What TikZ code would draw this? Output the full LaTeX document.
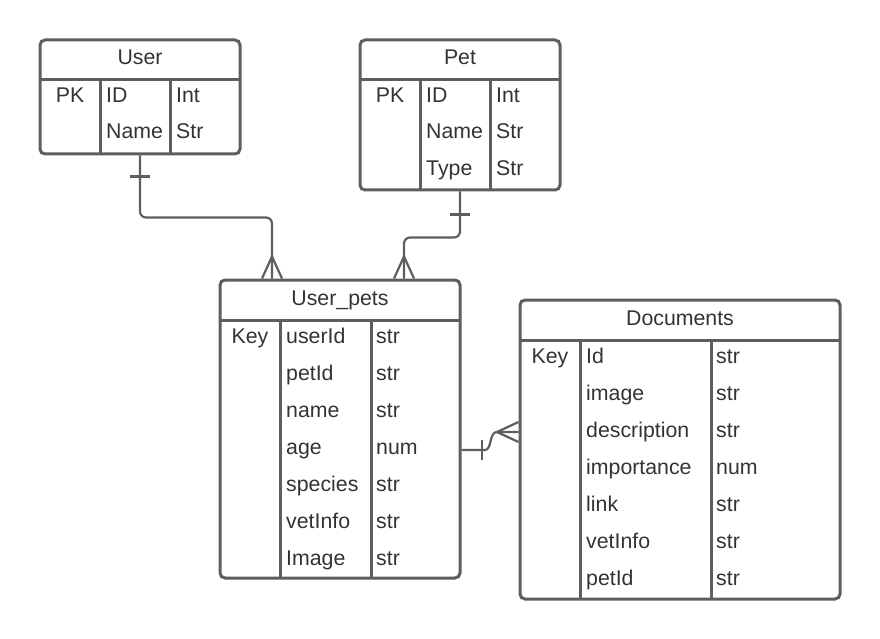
\documentclass[tikz,border=0pt]{standalone}
\usepackage{fontspec}
\setmainfont{Liberation Sans}
\usepackage{xcolor}
\usetikzlibrary{positioning}
\definecolor{linegray}{HTML}{5E5E5E}
\definecolor{textgray}{HTML}{333333}

\begin{document}
\begin{tikzpicture}[
  x=1pt, y=-1pt,
  tbl/.style={draw=linegray, line width=3pt, rounded corners=5pt, inner sep=0pt},
  rule/.style={draw=linegray, line width=3pt},
  head/.style={anchor=base, inner sep=0pt, text=textgray, font=\fontsize{21.3}{25}\selectfont},
  keycell/.style={head},
  cell/.style={anchor=base west, inner sep=0pt, text=textgray, font=\fontsize{21.3}{25}\selectfont},
  rel/.style={draw=linegray, line width=2.2pt, rounded corners=6pt}
]
\useasboundingbox (0,0) rectangle (880,639);

% tables
\node[tbl, minimum width=200pt, minimum height=114pt] (user) at (140,97) {};
\node[tbl, minimum width=200pt, minimum height=150pt] (pet) at (460,115) {};
\node[tbl, minimum width=240pt, minimum height=298pt] (userpets) at (340,429) {};
\node[tbl, minimum width=320pt, minimum height=299pt] (documents) at (680,449.5) {};

% inner rules
\draw[rule] (40,80) -- (240,80) (100,80) -- (100,154) (170,80) -- (170,154);
\draw[rule] (360,80) -- (560,80) (420,80) -- (420,190) (490,80) -- (490,190);
\draw[rule] (220,320) -- (460,320) (280,320) -- (280,578) (371,320) -- (371,578);
\draw[rule] (520,340) -- (840,340) (580,340) -- (580,599) (711,340) -- (711,599);

% User
\node[head] (user-h) at (140,65) {User};
\node[keycell] (user-k) at (70,103) {PK};
\node[cell] (user-n1) at (106,103) {ID};
\node[cell] (user-t1) at (176,103) {Int};
\node[cell] (user-n2) at (106,139) {Name};
\node[cell] (user-t2) at (176,139) {Str};

% Pet
\node[head] (pet-h) at (460,65) {Pet};
\node[keycell] (pet-k) at (390,103) {PK};
\node[cell] (pet-n1) at (426,103) {ID};
\node[cell] (pet-t1) at (496,103) {Int};
\node[cell] (pet-n2) at (426,139) {Name};
\node[cell] (pet-t2) at (496,139) {Str};
\node[cell] (pet-n3) at (426,176) {Type};
\node[cell] (pet-t3) at (496,176) {Str};

% User_pets
\node[head] (up-h) at (340,305) {User\_pets};
\node[keycell] (up-k) at (250,343) {Key};
\node[cell] (up-n1) at (286,343) {userId};
\node[cell] (up-t1) at (376,343) {str};
\node[cell] (up-n2) at (286,380) {petId};
\node[cell] (up-t2) at (376,380) {str};
\node[cell] (up-n3) at (286,417) {name};
\node[cell] (up-t3) at (376,417) {str};
\node[cell] (up-n4) at (286,454) {age};
\node[cell] (up-t4) at (376,454) {num};
\node[cell] (up-n5) at (286,491) {species};
\node[cell] (up-t5) at (376,491) {str};
\node[cell] (up-n6) at (286,528) {vetInfo};
\node[cell] (up-t6) at (376,528) {str};
\node[cell] (up-n7) at (286,565) {Image};
\node[cell] (up-t7) at (376,565) {str};

% Documents
\node[head] (doc-h) at (680,325) {Documents};
\node[keycell] (doc-k) at (550,363) {Key};
\node[cell] (doc-n1) at (586,363) {Id};
\node[cell] (doc-t1) at (716,363) {str};
\node[cell] (doc-n2) at (586,400) {image};
\node[cell] (doc-t2) at (716,400) {str};
\node[cell] (doc-n3) at (586,437) {description};
\node[cell] (doc-t3) at (716,437) {str};
\node[cell] (doc-n4) at (586,474) {importance};
\node[cell] (doc-t4) at (716,474) {num};
\node[cell] (doc-n5) at (586,511) {link};
\node[cell] (doc-t5) at (716,511) {str};
\node[cell] (doc-n6) at (586,548) {vetInfo};
\node[cell] (doc-t6) at (716,548) {str};
\node[cell] (doc-n7) at (586,585) {petId};
\node[cell] (doc-t7) at (716,585) {str};

% relations
\draw[rel] (user.south) -- ++(0,62) -| ([xshift=-68pt]userpets.north);
\draw[rel] ([xshift=-10pt,yshift=-21pt]user.south) -- ++(20,0);
\draw[rel, rounded corners=0pt] ([xshift=-78pt]userpets.north) -- ([xshift=-68pt,yshift=22pt]userpets.north) -- ([xshift=-58pt]userpets.north);

\draw[rel] (pet.south) -- ++(0,46) -| ([xshift=64pt]userpets.north);
\draw[rel] ([xshift=-10pt,yshift=-23pt]pet.south) -- ++(20,0);
\draw[rel, rounded corners=0pt] ([xshift=54pt]userpets.north) -- ([xshift=64pt,yshift=22pt]userpets.north) -- ([xshift=74pt]userpets.north);

\draw[rel, rounded corners=0pt] (userpets.east |- 0,450) -- (485,450) .. controls (492,450) and (489,432) .. (497,432) -- (documents.west |- 0,432);
\draw[rel] (482,440) -- (482,460);
\draw[rel, rounded corners=0pt] (documents.west |- 0,422) -- (497,432) -- (documents.west |- 0,442);
\end{tikzpicture}
\end{document}
